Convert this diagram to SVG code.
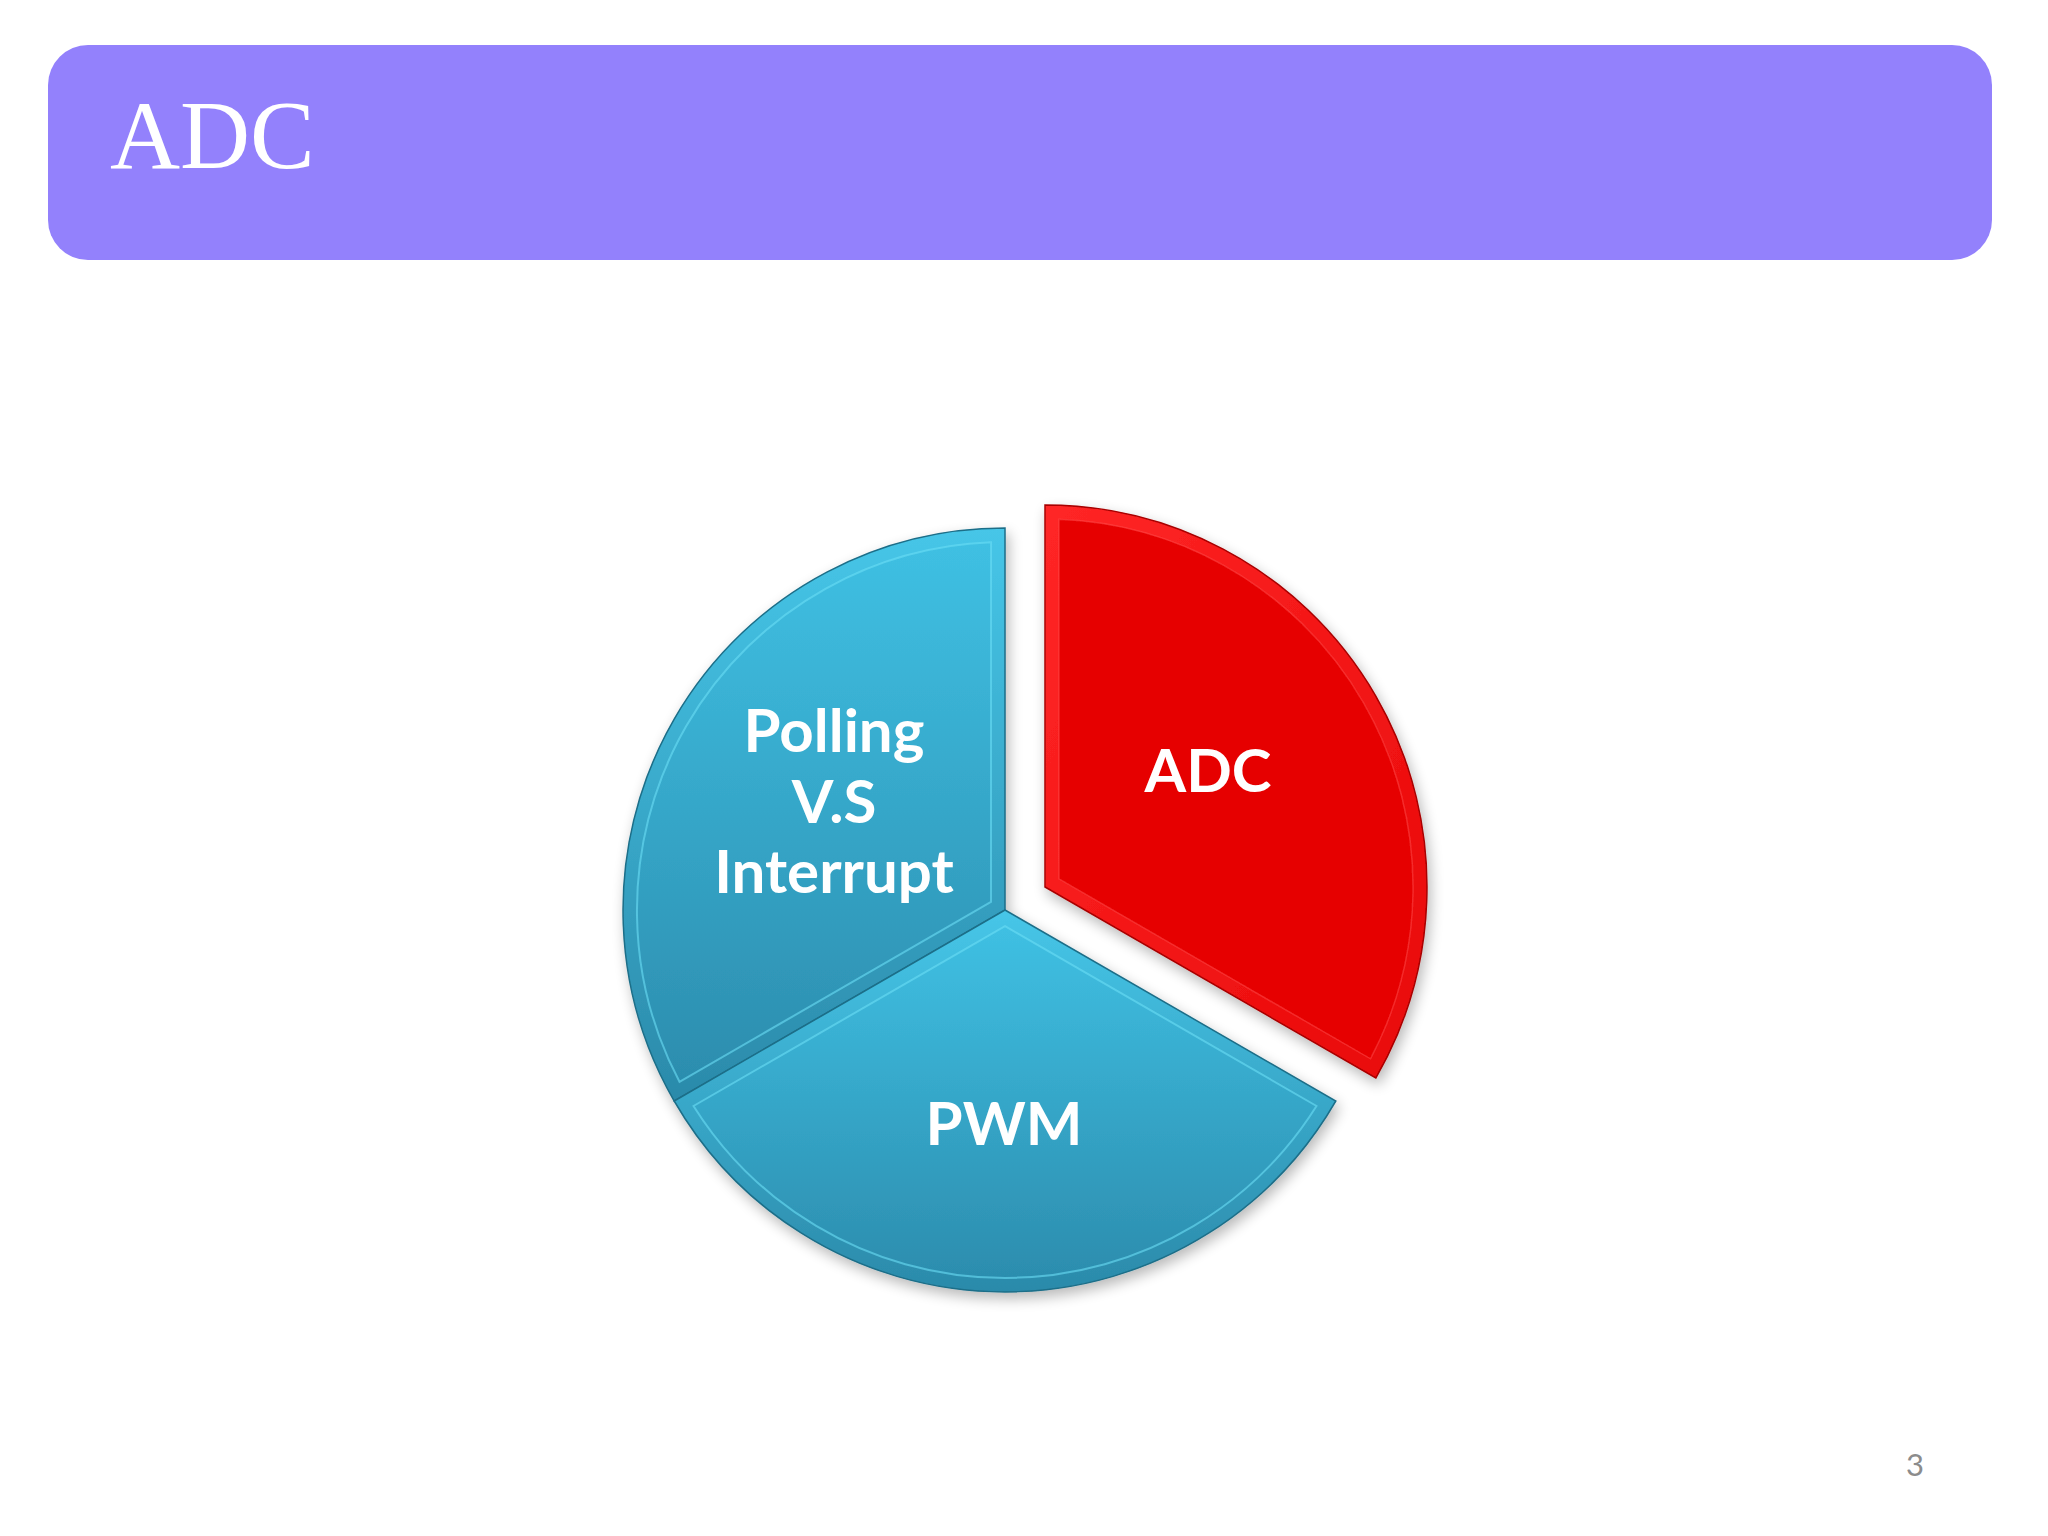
<svg xmlns="http://www.w3.org/2000/svg" width="2048" height="1536" viewBox="0 0 2048 1536">
  <defs>
    <linearGradient id="blueFill" x1="0" y1="0" x2="0" y2="1">
      <stop offset="0" stop-color="#3FC0E3"/>
      <stop offset="1" stop-color="#2C8DAE"/>
    </linearGradient>
    <linearGradient id="blueBand" x1="0" y1="0" x2="0" y2="1">
      <stop offset="0" stop-color="#46C6E8"/>
      <stop offset="1" stop-color="#2B8AAA"/>
    </linearGradient>
    <linearGradient id="redBand" x1="0" y1="0" x2="1" y2="1">
      <stop offset="0" stop-color="#FF2626"/>
      <stop offset="1" stop-color="#E80808"/>
    </linearGradient>
    <filter id="shadow" x="-20%" y="-20%" width="140%" height="140%">
      <feGaussianBlur in="SourceAlpha" stdDeviation="7"/>
      <feOffset dx="3" dy="6" result="b"/>
      <feComponentTransfer><feFuncA type="linear" slope="0.28"/></feComponentTransfer>
      <feMerge><feMergeNode/><feMergeNode in="SourceGraphic"/></feMerge>
    </filter>
    <style>
      .title { font-family: "Liberation Serif", "DejaVu Serif", serif; font-size: 97px; fill: #FFFFFF; }
      .label { font-family: Lato, "Open Sans", "Liberation Sans", sans-serif; font-weight: 700; font-size: 60px; fill: #FFFFFF; text-anchor: middle; }
      .outerBlue { fill: url(#blueBand); stroke: #1C6E88; stroke-width: 1.5; }
      .innerBlue { fill: url(#blueFill); stroke: #6ADDF5; stroke-width: 2; stroke-opacity: 0.6; }
      .outerRed { fill: url(#redBand); stroke: #A80000; stroke-width: 1.5; }
      .innerRed { fill: #E60000; stroke: #FF5050; stroke-width: 1.5; stroke-opacity: 0.5; }
      .pagenum { font-family: Lato, "Open Sans", "Liberation Sans", sans-serif; font-size: 31px; fill: #8C8C8C; text-anchor: middle; }
    </style>
  </defs>

  <rect width="2048" height="1536" fill="#FFFFFF"/>

  <g id="header">
    <rect x="48" y="45" width="1944" height="215" rx="40" ry="40" fill="#9381FC"/>
    <text class="title" x="110" y="168">ADC</text>
  </g>

  <g id="pie" filter="url(#shadow)">
    <g id="slice-polling">
      <path class="outerBlue" d="M1005,910 L674.2,1101 A382,382 0 0 1 1005,528 Z"/>
      <path class="innerBlue" d="M991,901.9 L679.5,1081.8 A368,368 0 0 1 991,542.3 Z"/>
      <text class="label" x="834" y="752">Polling</text>
      <text class="label" x="834" y="823">V.S</text>
      <text class="label" x="834" y="893">Interrupt</text>
    </g>
    <g id="slice-pwm">
      <path class="outerBlue" d="M1005,910 L1335.8,1101 A382,382 0 0 1 674.2,1101 Z"/>
      <path class="innerBlue" d="M1005,926.2 L1316.5,1106 A368,368 0 0 1 693.5,1106 Z"/>
      <text class="label" x="1004" y="1145">PWM</text>
    </g>
    <g id="slice-adc">
      <path class="outerRed" d="M1045,887 L1045,505 A382,382 0 0 1 1375.8,1078 Z"/>
      <path class="innerRed" d="M1059,878.9 L1059,519.3 A368,368 0 0 1 1370.5,1058.8 Z"/>
      <text class="label" x="1208" y="792">ADC</text>
    </g>
  </g>

  <text class="pagenum" x="1915" y="1476">3</text>
</svg>
